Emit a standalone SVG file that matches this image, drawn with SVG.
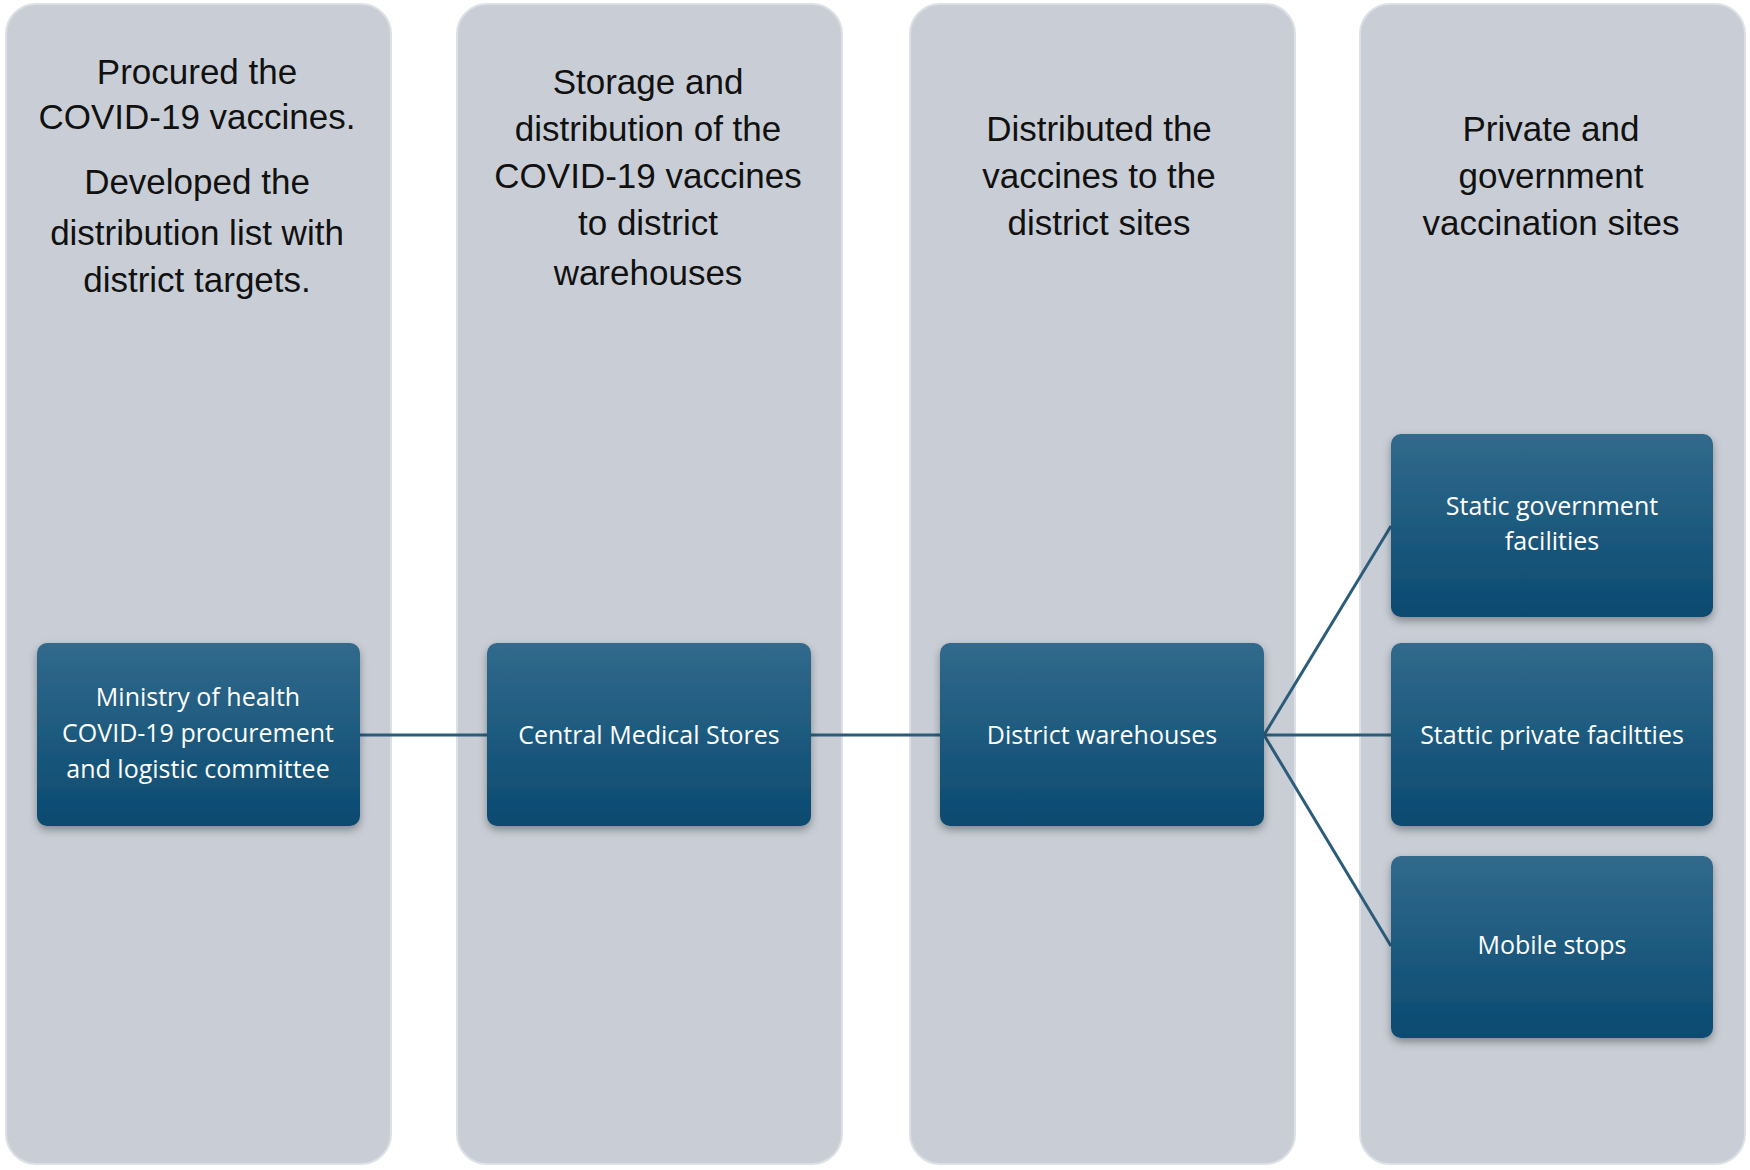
<svg xmlns="http://www.w3.org/2000/svg" width="1750" height="1170" viewBox="0 0 1750 1170">
<style>
.col{fill:#c9ced6;stroke:#dde1e6;stroke-width:2}
.hd{font-family:"Liberation Sans",Arial,sans-serif;font-size:35px;fill:#111;text-anchor:middle}
.bx{fill:url(#g);filter:url(#sh)}
.bt{font-family:"Open Sans","Liberation Sans",sans-serif;font-size:25px;fill:#fff;text-anchor:middle}
.ln{stroke:#2b5c7a;stroke-width:3;fill:none}
</style>
<defs>
<linearGradient id="g" x1="0" y1="0" x2="0" y2="1"><stop offset="0" stop-color="#316a8c"/><stop offset="1" stop-color="#0a4a70"/></linearGradient>
<filter id="sh" x="-10%" y="-10%" width="120%" height="130%"><feDropShadow dx="0" dy="4" stdDeviation="4" flood-opacity="0.35"/></filter>
</defs>
<rect width="1750" height="1170" fill="#fff"/>
<g id="col1"><rect class="col" x="6" y="4" width="385" height="1160" rx="30"/>
<text class="hd"><tspan x="197" y="84">Procured the</tspan><tspan x="197" y="129">COVID-19 vaccines.</tspan><tspan x="197" y="194">Developed the</tspan><tspan x="197" y="245">distribution list with</tspan><tspan x="197" y="292">district targets.</tspan></text></g>
<g id="col2"><rect class="col" x="457" y="4" width="385" height="1160" rx="30"/>
<text class="hd"><tspan x="648" y="94">Storage and</tspan><tspan x="648" y="141">distribution of the</tspan><tspan x="648" y="188">COVID-19 vaccines</tspan><tspan x="648" y="235">to district</tspan><tspan x="648" y="285">warehouses</tspan></text></g>
<g id="col3"><rect class="col" x="910" y="4" width="385" height="1160" rx="30"/>
<text class="hd"><tspan x="1099" y="141">Distributed the</tspan><tspan x="1099" y="188">vaccines to the</tspan><tspan x="1099" y="235">district sites</tspan></text></g>
<g id="col4"><rect class="col" x="1360" y="4" width="385" height="1160" rx="30"/>
<text class="hd"><tspan x="1551" y="141">Private and</tspan><tspan x="1551" y="188">government</tspan><tspan x="1551" y="235">vaccination sites</tspan></text></g>
<g id="connectors">
<line class="ln" x1="360" y1="735" x2="487" y2="735"/>
<line class="ln" x1="811" y1="735" x2="940" y2="735"/>
<line class="ln" x1="1264" y1="735" x2="1391" y2="735"/>
<line class="ln" x1="1264" y1="735" x2="1391" y2="526"/>
<line class="ln" x1="1264" y1="735" x2="1391" y2="946"/>
</g>
<g id="ministry"><rect class="bx" x="37" y="643" width="323" height="183" rx="10"/>
<text class="bt"><tspan x="198" y="706">Ministry of health</tspan><tspan x="198" y="742">COVID-19 procurement</tspan><tspan x="198" y="778">and logistic committee</tspan></text></g>
<g id="cms"><rect class="bx" x="487" y="643" width="324" height="183" rx="10"/>
<text class="bt" x="649" y="744">Central Medical Stores</text></g>
<g id="dw"><rect class="bx" x="940" y="643" width="324" height="183" rx="10"/>
<text class="bt" x="1102" y="744">District warehouses</text></g>
<g id="sgf"><rect class="bx" x="1391" y="434" width="322" height="183" rx="10"/>
<text class="bt"><tspan x="1552" y="515">Static government</tspan><tspan x="1552" y="550">facilities</tspan></text></g>
<g id="spf"><rect class="bx" x="1391" y="643" width="322" height="183" rx="10"/>
<text class="bt" x="1552" y="744">Stattic private faciltties</text></g>
<g id="ms"><rect class="bx" x="1391" y="856" width="322" height="182" rx="10"/>
<text class="bt" x="1552" y="954">Mobile stops</text></g>
</svg>
